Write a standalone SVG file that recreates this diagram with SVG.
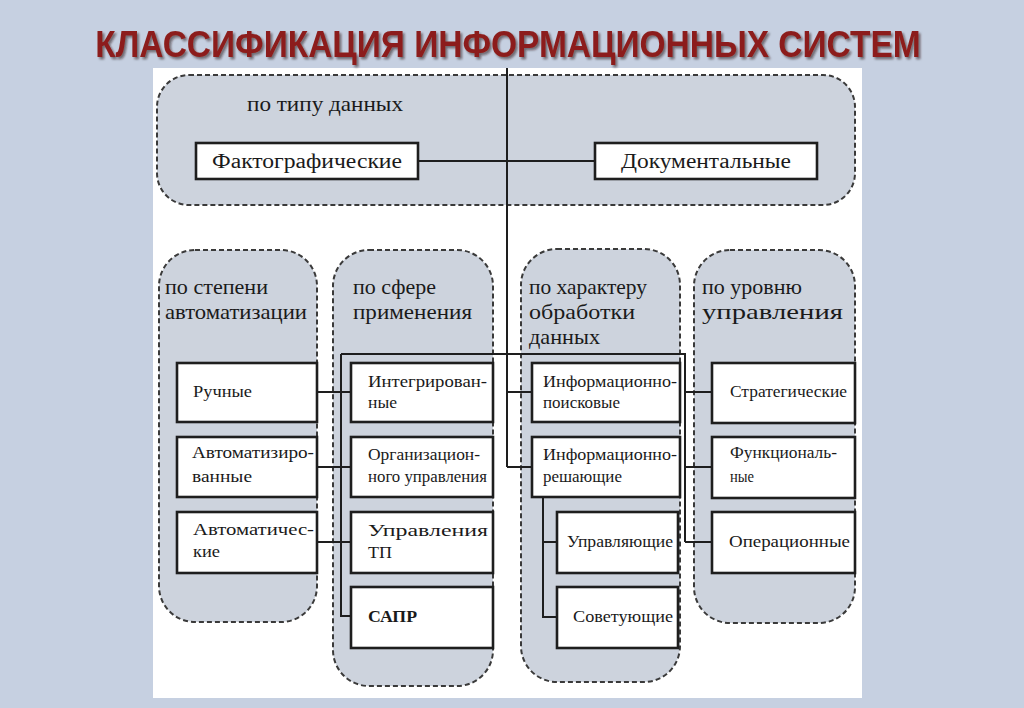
<svg xmlns="http://www.w3.org/2000/svg" width="1024" height="708" viewBox="0 0 1024 708">
<defs>
<filter id="shadow" x="-5%" y="-30%" width="110%" height="160%">
<feDropShadow dx="2" dy="2" stdDeviation="0.8" flood-color="#2a0a08" flood-opacity="0.55"/>
</filter>
</defs>
<style>
.grp{fill:#cdd3dd;stroke:#3a3a3a;stroke-width:2;stroke-dasharray:5 3}
.box{fill:#fff;stroke:#1e1e1e;stroke-width:2.6}
.con{fill:none;stroke:#1e1e1e;stroke-width:2}
.lbl{font-family:"Liberation Serif","DejaVu Serif",serif;font-size:22px;fill:#1a1a1a}
.t{font-family:"Liberation Serif","DejaVu Serif",serif;font-size:16px;fill:#1a1a1a}
.tb{font-family:"Liberation Serif","DejaVu Serif",serif;font-size:20px;fill:#1a1a1a}
.title{font-family:"Liberation Sans","DejaVu Sans",sans-serif;font-weight:bold;font-size:33.5px}
</style>
<rect x="0" y="0" width="1024" height="708" fill="#c6d0e1"/>
<rect x="153" y="68" width="709" height="630" fill="#ffffff"/>
<g id="title">
<text class="title" transform="translate(508,57) scale(1,1.12)" x="0" y="0" text-anchor="middle" fill="#8c1f1a" filter="url(#shadow)">КЛАССИФИКАЦИЯ ИНФОРМАЦИОННЫХ СИСТЕМ</text>
</g>
<g id="groups">
<rect id="g-type" class="grp" x="157" y="75" width="698" height="130" rx="32"/>
<rect id="g-auto" class="grp" x="159" y="250" width="158" height="372" rx="36"/>
<rect id="g-sphere" class="grp" x="333" y="250" width="160" height="436" rx="36"/>
<rect id="g-proc" class="grp" x="521" y="249" width="159" height="433" rx="36"/>
<rect id="g-level" class="grp" x="694" y="250" width="161" height="373" rx="36"/>
</g>
<g id="group-labels">
<text class="lbl" x="247" y="111" textLength="156" lengthAdjust="spacingAndGlyphs">по типу данных</text>
<text class="lbl" x="165" y="294" textLength="103" lengthAdjust="spacingAndGlyphs">по степени</text>
<text class="lbl" x="165" y="319" textLength="142" lengthAdjust="spacingAndGlyphs">автоматизации</text>
<text class="lbl" x="353" y="294" textLength="83" lengthAdjust="spacingAndGlyphs">по сфере</text>
<text class="lbl" x="353" y="319" textLength="119" lengthAdjust="spacingAndGlyphs">применения</text>
<text class="lbl" x="529" y="294" textLength="118" lengthAdjust="spacingAndGlyphs">по характеру</text>
<text class="lbl" x="529" y="319" textLength="106" lengthAdjust="spacingAndGlyphs">обработки</text>
<text class="lbl" x="529" y="344" textLength="71" lengthAdjust="spacingAndGlyphs">данных</text>
<text class="lbl" x="702" y="294" textLength="100" lengthAdjust="spacingAndGlyphs">по уровню</text>
<text class="lbl" x="702" y="319" textLength="141" lengthAdjust="spacingAndGlyphs">управления</text>
</g>
<g id="connectors">
<path class="con" d="M507,68 V467"/>
<path class="con" d="M418,161 H595"/>
<path class="con" d="M341,354 H685 V542"/>
<path class="con" d="M341,354 V616 H351"/>
<path class="con" d="M317,392 H351 M317,467 H351 M317,542 H351"/>
<path class="con" d="M507,392 H532 M507,467 H532"/>
<path class="con" d="M543,498 V617 H557 M543,542 H557"/>
<path class="con" d="M685,392 H712 M685,467 H712 M685,542 H712"/>
</g>
<g id="n-fact"><rect class="box" x="196" y="143" width="222" height="36"/><text class="tb" x="307" y="168" text-anchor="middle" textLength="190" lengthAdjust="spacingAndGlyphs">Фактографические</text></g>
<g id="n-doc"><rect class="box" x="595" y="143" width="222" height="36"/><text class="tb" x="706" y="168" text-anchor="middle" textLength="170" lengthAdjust="spacingAndGlyphs">Документальные</text></g>

<g id="n-manual"><rect class="box" x="177" y="363" width="140" height="59"/><text class="t" x="193" y="397" textLength="59" lengthAdjust="spacingAndGlyphs">Ручные</text></g>
<g id="n-automated"><rect class="box" x="177" y="437" width="140" height="60"/><text class="t" x="192" y="458" textLength="122" lengthAdjust="spacingAndGlyphs">Автоматизиро-</text><text class="t" x="192" y="482" textLength="60" lengthAdjust="spacingAndGlyphs">ванные</text></g>
<g id="n-automatic"><rect class="box" x="177" y="512" width="140" height="61"/><text class="t" x="193" y="535" textLength="121" lengthAdjust="spacingAndGlyphs">Автоматичес-</text><text class="t" x="193" y="557" textLength="27" lengthAdjust="spacingAndGlyphs">кие</text></g>

<g id="n-integr"><rect class="box" x="351" y="363" width="142" height="59"/><text class="t" x="368" y="387" textLength="119" lengthAdjust="spacingAndGlyphs">Интегрирован-</text><text class="t" x="368" y="408" textLength="29" lengthAdjust="spacingAndGlyphs">ные</text></g>
<g id="n-org"><rect class="box" x="351" y="437" width="142" height="60"/><text class="t" x="368" y="460" textLength="112" lengthAdjust="spacingAndGlyphs">Организацион-</text><text class="t" x="368" y="482" textLength="119" lengthAdjust="spacingAndGlyphs">ного управления</text></g>
<g id="n-tp"><rect class="box" x="351" y="512" width="142" height="61"/><text class="t" x="368" y="536" textLength="120" lengthAdjust="spacingAndGlyphs">Управления</text><text class="t" x="368" y="558" textLength="24" lengthAdjust="spacingAndGlyphs">ТП</text></g>
<g id="n-sapr"><rect class="box" x="351" y="587" width="142" height="61"/><text class="t" x="368" y="622" font-weight="bold" textLength="49" lengthAdjust="spacingAndGlyphs">САПР</text></g>

<g id="n-search"><rect class="box" x="532" y="363" width="148" height="59"/><text class="t" x="543" y="387" textLength="134" lengthAdjust="spacingAndGlyphs">Информационно-</text><text class="t" x="543" y="408" textLength="77" lengthAdjust="spacingAndGlyphs">поисковые</text></g>
<g id="n-solve"><rect class="box" x="532" y="437" width="148" height="60"/><text class="t" x="543" y="460" textLength="134" lengthAdjust="spacingAndGlyphs">Информационно-</text><text class="t" x="543" y="482" textLength="79" lengthAdjust="spacingAndGlyphs">решающие</text></g>
<g id="n-control"><rect class="box" x="557" y="512" width="121" height="61"/><text class="t" x="567" y="547" textLength="106" lengthAdjust="spacingAndGlyphs">Управляющие</text></g>
<g id="n-advise"><rect class="box" x="557" y="587" width="121" height="61"/><text class="t" x="573" y="622" textLength="100" lengthAdjust="spacingAndGlyphs">Советующие</text></g>

<g id="n-strat"><rect class="box" x="712" y="363" width="143" height="60"/><text class="t" x="730" y="397" textLength="117" lengthAdjust="spacingAndGlyphs">Стратегические</text></g>
<g id="n-func"><rect class="box" x="712" y="437" width="143" height="61"/><text class="t" x="730" y="458" textLength="107" lengthAdjust="spacingAndGlyphs">Функциональ-</text><text class="t" x="730" y="482" textLength="24" lengthAdjust="spacingAndGlyphs">ные</text></g>
<g id="n-oper"><rect class="box" x="712" y="512" width="143" height="61"/><text class="t" x="729" y="547" textLength="121" lengthAdjust="spacingAndGlyphs">Операционные</text></g>
</svg>
